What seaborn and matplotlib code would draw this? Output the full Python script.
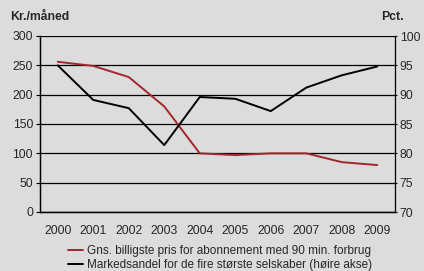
import matplotlib
matplotlib.use("Agg")
import matplotlib.pyplot as plt
import seaborn as sns
import numpy as np
import pandas as pd

years = [2000, 2001, 2002, 2003, 2004, 2005, 2006, 2007, 2008, 2009]
price = [256, 249, 230, 180, 100, 97, 100, 100, 85, 80]
share = [95.0, 89.1, 87.7, 81.4, 89.6, 89.3, 87.2, 91.2, 93.3, 94.8]

price_label = "Gns. billigste pris for abonnement med 90 min. forbrug"
share_label = "Markedsandel for de fire største selskaber (høire akse)"

bg = "#DCDCDC"
red = "#A3262C"
fs = 8.8

sns.set_style("white")
plt.rcParams["font.family"] = ["Liberation Sans", "DejaVu Sans"]
plt.rcParams["font.size"] = fs

df = pd.DataFrame({"pos": np.arange(len(years)), "price": price, "share": share})

fig = plt.figure(figsize=(4.24, 2.71), dpi=100, facecolor=bg)
ax = fig.add_axes([40 / 424, 1 - 212 / 271, 355 / 424, 176 / 271], facecolor=bg)
ax2 = ax.twinx()

sns.lineplot(data=df, x="pos", y="price", ax=ax, color=red, lw=1.4, label=price_label, legend=False)
sns.lineplot(data=df, x="pos", y="share", ax=ax2, color="black", lw=1.4, label=share_label, legend=False)

ax.set_xlim(-0.5, len(years) - 0.5)
ax.set_ylim(0, 300)
ax.set_yticks(range(0, 301, 50))
ax2.set_ylim(70, 100)
ax2.set_yticks(range(70, 101, 5))
ax.set_xticks(range(len(years)))
ax.set_xticklabels(years)
ax.set_xticks(np.arange(-0.5, len(years), 1), minor=True)
ax.tick_params(axis="x", which="major", length=0, pad=9, labelsize=fs)
ax.tick_params(axis="x", which="minor", length=3, direction="out", color="black")
ax.tick_params(axis="y", length=3, direction="out", color="black", pad=2, labelsize=fs)
ax2.tick_params(axis="y", length=3, direction="inout", color="black", pad=2, labelsize=fs)
ax.set_xlabel("")
ax.set_ylabel("")
ax2.set_ylabel("")

ax.grid(axis="y", color="black", lw=0.9)
ax.set_axisbelow(True)
for a in (ax, ax2):
    a.spines["top"].set_visible(False)
    for s in ("left", "right", "bottom"):
        a.spines[s].set_color("black")
        a.spines[s].set_linewidth(0.9)
ax.spines["right"].set_visible(False)

fig.text(10 / 424, 1 - 17 / 271, "Kr./måned", fontweight="bold", fontsize=fs, va="center")
fig.text(381 / 424, 1 - 17 / 271, "Pct.", fontweight="bold", fontsize=fs, va="center")

handles = ax.get_lines()[:1] + ax2.get_lines()[:1]
fig.legend(handles, [price_label, share_label], loc="upper left",
           bbox_to_anchor=(62 / 424, 1 - 239 / 271), frameon=False,
           handlelength=1.3, handletextpad=0.3, labelspacing=0.2, borderpad=0,
           fontsize=8.5)

fig.savefig("out.png", dpi=100, facecolor=bg)
